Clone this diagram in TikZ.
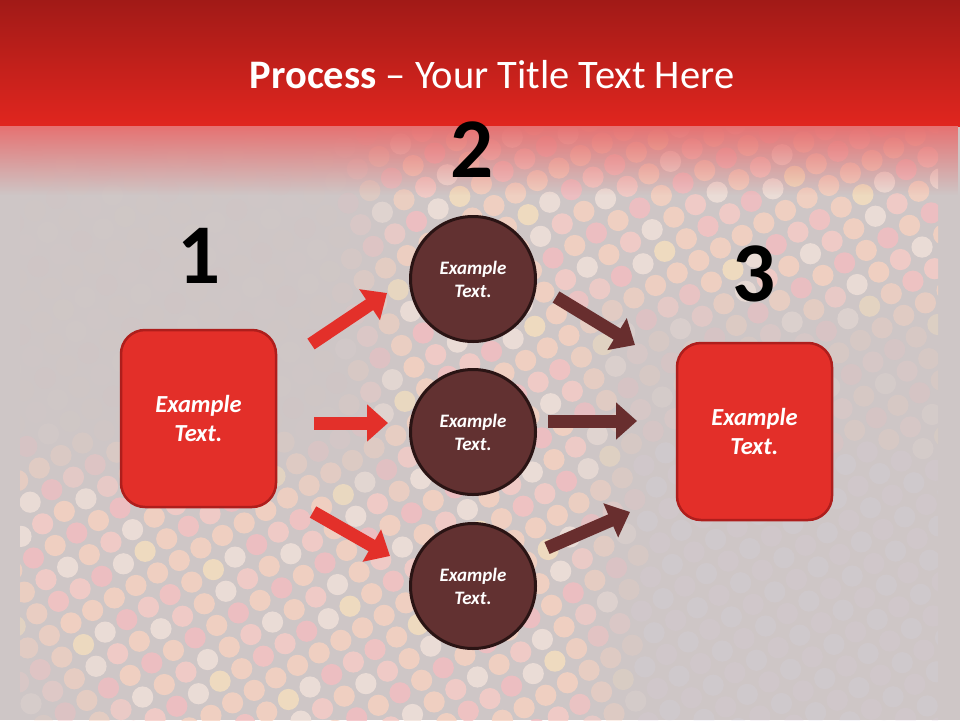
\documentclass[tikz,border=0pt]{standalone}
\usepackage{fontspec}
\setmainfont{Carlito}
\usetikzlibrary{arrows.meta,fadings}

\definecolor{bgGray}{HTML}{CEC6C6}
\definecolor{hdrTop}{HTML}{A11A17}
\definecolor{hdrMid}{HTML}{C42320}
\definecolor{hdrBot}{HTML}{E1261F}
\definecolor{hdrFade}{HTML}{E67272}
\definecolor{boxRed}{HTML}{E32F29}
\definecolor{boxLine}{HTML}{AE1E1C}
\definecolor{circFill}{HTML}{623131}
\definecolor{circLine}{HTML}{2A1414}
\definecolor{arrRed}{HTML}{E3302A}
\definecolor{arrBrown}{HTML}{682E2E}
\definecolor{dotc0}{HTML}{F6C2C2}
\definecolor{dotc1}{HTML}{F8D2C0}
\definecolor{dotc2}{HTML}{F6E0BE}
\definecolor{dotc3}{HTML}{F2E2DA}
\definecolor{dotc4}{HTML}{F4BCC0}
\definecolor{dotc5}{HTML}{F8CCC6}
\definecolor{dotc6}{HTML}{DCCCE0}
\definecolor{dotc7}{HTML}{D6D6E8}

\tikzfading[name=hdrfade, top color=transparent!0, bottom color=transparent!100]

\begin{document}
\begin{tikzpicture}[x=1pt,y=-1pt]
	\tikzset{stepbox/.style={draw=boxLine, fill=boxRed, line width=2.5pt,
			rounded corners=24pt, minimum width=155pt, minimum height=177pt,
			align=center, text=white, font=\fontsize{24.5}{29}\selectfont\bfseries\itshape},
		stepcirc/.style={circle, draw=circLine, fill=circFill, line width=3pt,
			minimum size=125pt, align=center, text=white,
			font=\fontsize{19}{23}\selectfont\bfseries\itshape},
		stepnum/.style={font=\fontsize{85}{85}\selectfont\bfseries, text=black},
		redarrow/.style={draw=arrRed, line width=13pt, -{Triangle[length=21pt,width=36pt]}},
		brownarrow/.style={draw=arrBrown, line width=13pt, -{Triangle[length=21pt,width=36pt]}}}
	\useasboundingbox (0,0) rectangle (960,720);
	\fill[bgGray] (0,0) rectangle (960,720);
	% dotted background (tilted square grid)
	\begin{scope}
		\clip (20,110) rectangle (938,720);
		\foreach \i in {-15,...,31}{
			\foreach \j in {4,...,45}{
				\pgfmathsetmacro\px{21.65*\i+12.5*\j}
				\pgfmathsetmacro\py{-12.5*\i+21.65*\j}
				\pgfmathsetmacro\inb{(\px>8)*(\px<952)*(\py>98)*(\py<732)}
				\pgfmathsetmacro\sa{min(1,max(0.06,max(\px-335,\py-425)/80))}
				\pgfmathsetmacro\sb{min(1,max(0.24,max(650-\px,360-\py)/80))}
				\pgfmathsetmacro\sc{min(1,max(0.15,(\px+(720-\py)*0.8)/150))}
				\pgfmathsetmacro\op{0.8*\sa*\sb*\sc*\inb}
				\pgfmathsetmacro\wr{(\px>640)*(\py>450)}
				\pgfmathtruncatemacro\dc{\wr*(6+mod(\i+\j+40,2))+(1-\wr)*mod(\i*7+\j*11+\i*\j+600,6)}
				\ifdim\op pt>0.01pt
					\fill[fill=dotc\dc, opacity=\op] (\px,\py) circle (10.6pt);
				\fi
			}
		}
	\end{scope}
	% header
	\shade[top color=hdrTop, middle color=hdrMid, bottom color=hdrBot] (0,0) rectangle (960,126);
	\fill[hdrFade, path fading=hdrfade] (0,126) rectangle (960,195);
	\node[text=white, font=\fontsize{40.5}{44}\selectfont] (title) at (492,75)
		{\textbf{Process} – Your Title Text Here};

	\node[stepnum] (n1) at (199,256) {1};
	\node[stepnum] (n2) at (472,150) {2};
	\node[stepnum] (n3) at (754,274) {3};

	\node[stepbox] (start) at (198.5,418.5) {Example\\Text.};
	\node[stepbox] (goal) at (754.5,431.5) {Example\\Text.};
	\node[stepcirc] (mid1) at (473,279) {Example\\Text.};
	\node[stepcirc] (mid2) at (473,432) {Example\\Text.};
	\node[stepcirc] (mid3) at (473,586) {Example\\Text.};

	\coordinate (r1s) at (311,344);
	\coordinate (r1e) at (387,293);
	\coordinate (r2s) at (314,423);
	\coordinate (r2e) at (388,423);
	\coordinate (r3s) at (313,512);
	\coordinate (r3e) at (390,556);
	\coordinate (b1s) at (556,297);
	\coordinate (b1e) at (635,345);
	\coordinate (b2s) at (548,421);
	\coordinate (b2e) at (637,421);
	\coordinate (b3s) at (547,548);
	\coordinate (b3e) at (630,512);

	\draw[redarrow] (r1s) -- (r1e);
	\draw[redarrow] (r2s) -- (r2e);
	\draw[redarrow] (r3s) -- (r3e);
	\draw[brownarrow] (b1s) -- (b1e);
	\draw[brownarrow] (b2s) -- (b2e);
	\draw[brownarrow] (b3s) -- (b3e);
\end{tikzpicture}
\end{document}
